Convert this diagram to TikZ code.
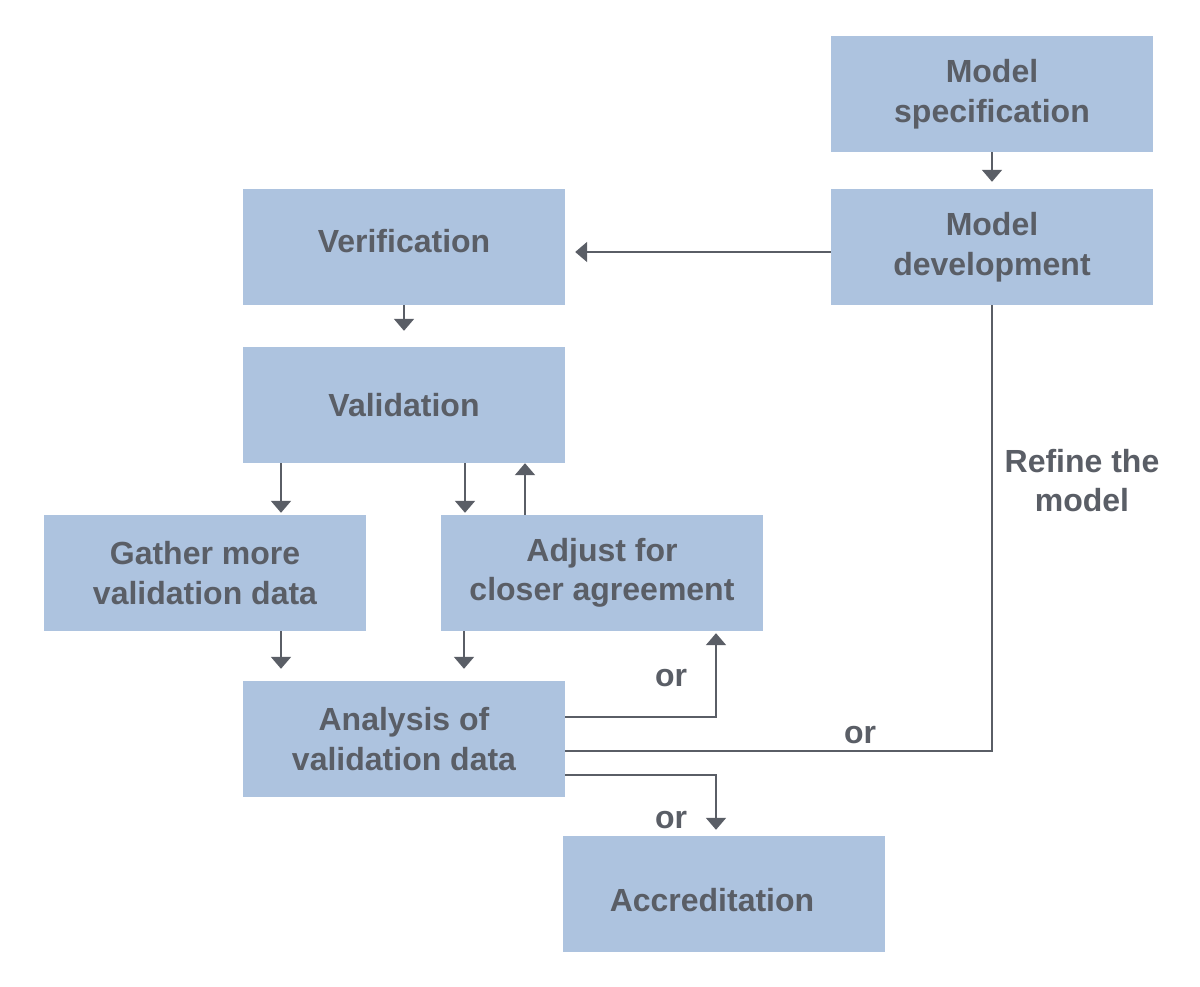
\documentclass[tikz,border=0pt]{standalone}
\usepackage{fontspec}
\setmainfont{Liberation Sans}
\usetikzlibrary{arrows.meta}
\definecolor{boxfill}{HTML}{ADC3DF}
\definecolor{ink}{HTML}{5A5E66}
\tikzset{
  stepbox/.style={fill=boxfill, minimum width=322pt, minimum height=116pt, inner sep=0pt,
    text=ink, align=center, font=\fontsize{32}{39.5}\selectfont\bfseries},
  lbl/.style={text=ink, align=center, font=\fontsize{32}{39}\selectfont\bfseries},
  conn/.style={draw=ink, line width=2pt},
  arr/.style={conn, -{Triangle[width=20pt,length=12pt]}}
}
\begin{document}
\begin{tikzpicture}[x=1pt,y=-1pt]
\useasboundingbox[fill=white] (0,0) rectangle (1200,987);
\node[stepbox] (spec) at (992,94) {Model\\specification};
\node[stepbox] (dev) at (992,247) {Model\\development};
\node[stepbox] (ver) at (404,247) {\raisebox{6pt}[\height][\depth]{Verification}};
\node[stepbox] (val) at (404,405) {Validation};
\node[stepbox] (gat) at (205,573) {Gather more\\validation data};
\node[stepbox] (adj) at (602,573) {Adjust for\\closer agreement};
\node[stepbox] (ana) at (404,739) {Analysis of\\validation data};
\node[stepbox] (acc) at (724,894) {\raisebox{-6pt}[\height][\depth]{Accreditation}\hspace{24pt}};

\draw[arr, shorten >=7pt] (spec) -- (dev);
\draw[arr, shorten >=10pt] ([yshift=-5pt]dev.west) -- ([yshift=-5pt]ver.east);
\draw[arr, shorten >=16pt] (ver) -- (val);
\draw[arr, shorten >=2pt] ([xshift=-123pt]val.south) -- ([xshift=-123pt]val.south |- gat.north);
\draw[arr, shorten >=2pt] ([xshift=61pt]val.south) -- ([xshift=61pt]val.south |- adj.north);
\draw[arr] ([xshift=-77pt]adj.north) -- ([xshift=-77pt]adj.north |- val.south);
\draw[arr, shorten >=12pt] ([xshift=76pt]gat.south) -- ([xshift=76pt]gat.south |- ana.north);
\draw[arr, shorten >=12pt] ([xshift=-138pt]adj.south) -- ([xshift=-138pt]adj.south |- ana.north);
\draw[arr, shorten >=2pt] ([yshift=22pt]ana.east) -| ([xshift=114pt]adj.south);
\draw[conn] ([yshift=-12pt]ana.east) -| (dev.south);
\draw[arr, shorten >=6pt] ([yshift=-36pt]ana.east) -| ([xshift=-8pt]acc.north);

\node[lbl] (refine) at (1082,481) {Refine the\\model};
\node[lbl] (or1) at (671,678) {or};
\node[lbl] (or2) at (860,735) {or};
\node[lbl] (or3) at (671,820) {or};
\end{tikzpicture}
\end{document}
